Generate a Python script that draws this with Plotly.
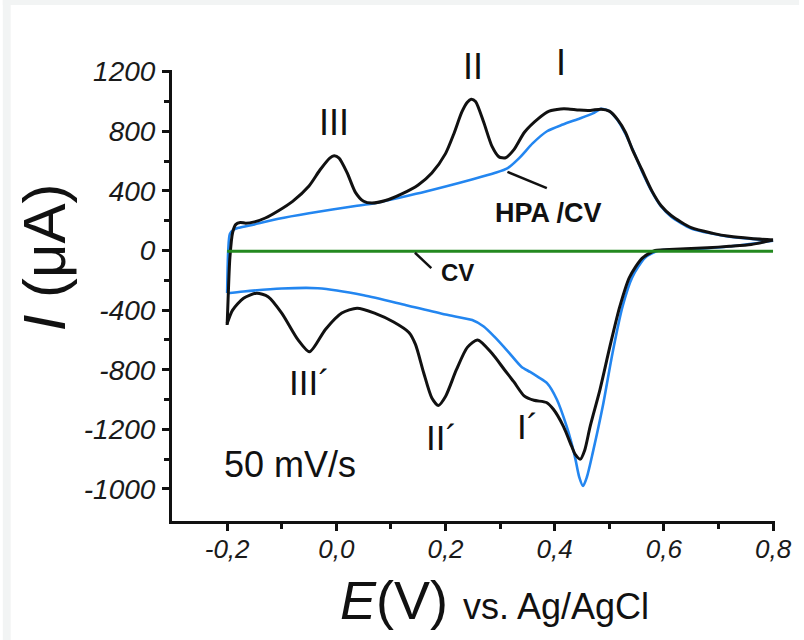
import plotly.graph_objects as go

# ---------------- data ----------------
# Black curve (HPA/CV), anodic (forward) sweep
hpa_fwd_E = [-0.200, -0.198, -0.195, -0.190, -0.184, -0.176, -0.166, -0.150, -0.130, -0.106,
             -0.080, -0.050, -0.030, -0.012, -0.004, 0.005, 0.020, 0.035, 0.050, 0.065,
             0.090, 0.120, 0.150, 0.175, 0.200, 0.215, 0.230, 0.240, 0.247, 0.255,
             0.270, 0.285, 0.298, 0.310, 0.325, 0.345, 0.370, 0.390, 0.411, 0.425,
             0.445, 0.465, 0.485, 0.500, 0.515, 0.530, 0.542, 0.560, 0.578, 0.595,
             0.614, 0.650, 0.690, 0.720, 0.760, 0.800]
hpa_fwd_I = [-500, -300, -50, 120, 175, 188, 183, 192, 218, 267,
             330, 433, 540, 620, 635, 620, 520, 390, 330, 318,
             335, 380, 440, 520, 650, 780, 930, 995, 1015, 1000,
             860, 700, 628, 622, 675, 795, 885, 935, 950, 950,
             942, 940, 948, 935, 880, 790, 680, 540, 400, 300,
             233, 153, 115, 95, 80, 70]

# Black curve (HPA/CV), cathodic (reverse) sweep
hpa_rev_E = [0.800, 0.760, 0.720, 0.680, 0.620, 0.584, 0.560, 0.537, 0.519, 0.501,
             0.483, 0.465, 0.455, 0.447, 0.438, 0.431, 0.416, 0.398, 0.385, 0.362,
             0.344, 0.325, 0.308, 0.285, 0.259, 0.240, 0.220, 0.200, 0.187, 0.175,
             0.160, 0.145, 0.133, 0.105, 0.070, 0.038, 0.010, -0.020, -0.049, -0.070,
             -0.100, -0.125, -0.146, -0.170, -0.190, -0.200]
hpa_rev_I = [70, 40, 28, 18, 8, 0, -53, -180, -380, -647,
             -933, -1180, -1340, -1400, -1370, -1313, -1180, -1067, -1020, -1005,
             -975, -880, -800, -690, -600, -650, -800, -980, -1040, -990,
             -820, -630, -550, -480, -420, -387, -420, -530, -680, -600,
             -420, -310, -287, -320, -400, -490]

# Blue curve, anodic sweep
blue_fwd_E = [-0.200, -0.198, -0.195, -0.188, -0.178, -0.150, -0.106, -0.050, 0.038, 0.065,
              0.146, 0.200, 0.250, 0.290, 0.314, 0.335, 0.360, 0.386, 0.415, 0.447,
              0.470, 0.485, 0.500, 0.515, 0.530, 0.545, 0.560, 0.578, 0.595, 0.614,
              0.650, 0.690, 0.720, 0.760, 0.800]
blue_fwd_I = [-285, 0, 110, 140, 153, 175, 213, 250, 300, 313,
              380, 430, 478, 520, 553, 620, 720, 800, 845, 887,
              920, 950, 935, 875, 780, 660, 530, 395, 295, 225,
              148, 112, 92, 78, 66]

# Blue curve, cathodic sweep
blue_rev_E = [0.800, 0.740, 0.680, 0.620, 0.591, 0.566, 0.542, 0.524, 0.506, 0.488,
              0.470, 0.459, 0.452, 0.445, 0.438, 0.430, 0.422, 0.404, 0.386, 0.370,
              0.355, 0.339, 0.315, 0.290, 0.270, 0.249, 0.200, 0.128, 0.050, -0.034,
              -0.100, -0.170, -0.200]
blue_rev_I = [66, 35, 15, 5, 0, -47, -180, -380, -687, -1047,
              -1353, -1520, -1580, -1520, -1400, -1280, -1180, -1000, -890, -850,
              -815, -780, -680, -580, -510, -467, -430, -367, -300, -253,
              -255, -275, -287]

# Green curve (bare CV electrode)
cv_E = [-0.200, 0.800]
cv_I = [-5, -5]

# Axis ticks
x_tickvals = [-0.2, 0.0, 0.2, 0.4, 0.6, 0.8]
x_ticktext = ["-0,2", "0,0", "0,2", "0,4", "0,6", "0,8"]
x_minor = [-0.1, 0.1, 0.3, 0.5, 0.7]
y_tickvals = [1200, 800, 400, 0, -400, -800, -1200, -1600]
y_ticktext = ["1200", "800", "400", "0", "-400", "-800", "-1200", "-1000"]
y_minor = [1000, 600, 200, -200, -600, -1000, -1400]

# ---------------- figure ----------------
BLACK = "#111111"
BLUE = "#2386f0"
GREEN = "#23891f"
FONT = "Liberation Sans, Arial, sans-serif"

fig = go.Figure()
for E, I in [(blue_fwd_E, blue_fwd_I), (blue_rev_E, blue_rev_I)]:
    fig.add_trace(go.Scatter(x=E, y=I, mode="lines", line=dict(color=BLUE, width=2.6, shape="spline", smoothing=0.7),
                             showlegend=False, hoverinfo="skip"))
for E, I in [(hpa_fwd_E, hpa_fwd_I), (hpa_rev_E, hpa_rev_I)]:
    fig.add_trace(go.Scatter(x=E, y=I, mode="lines", line=dict(color=BLACK, width=3, shape="spline", smoothing=0.7),
                             showlegend=False, hoverinfo="skip"))
fig.add_trace(go.Scatter(x=cv_E, y=cv_I, mode="lines", line=dict(color=GREEN, width=3),
                         showlegend=False, hoverinfo="skip"))

# labels
def ann(text, x, y, size, bold=False, yref="y"):
    fig.add_annotation(x=x, y=y, xref="x", yref=yref, text=text, showarrow=False,
                       xanchor="center", yanchor="middle",
                       font=dict(family=FONT, size=size, color="#111111", weight="bold" if bold else "normal"))

ann("III", -0.004, 862, 36)
ann("II", 0.251, 1.0067, 36, yref="paper")
ann("I", 0.412, 1.0177, 36, yref="paper")
ann("HPA /CV", 0.389, 252, 27, bold=True)
ann("CV", 0.222, -151, 24, bold=True)
ann("III´", -0.050, -889, 35)
ann("II´", 0.193, -1252, 35)
ann("I´", 0.351, -1178, 35)
ann("50 mV/s", -0.085, -1433, 36)

# leader lines
fig.add_shape(type="line", xref="x", yref="y", x0=0.3135, y0=527, x1=0.3856, y1=419,
              line=dict(color=BLACK, width=2.5))
fig.add_shape(type="line", xref="x", yref="y", x0=0.144, y0=-15, x1=0.174, y1=-118,
              line=dict(color=BLACK, width=2.5))

# frame strips (light gray page border on left/top)
fig.add_shape(type="rect", xref="paper", yref="paper", x0=-0.2806, x1=-0.2675, y0=-0.27, y1=1.16,
              fillcolor="#f2f4f4", line=dict(width=0), layer="below")
fig.add_shape(type="rect", xref="paper", yref="paper", x0=-0.2806, x1=1.04, y0=1.144, y1=1.16,
              fillcolor="#f2f4f4", line=dict(width=0), layer="below")

# axis titles
fig.add_annotation(xref="paper", yref="paper", x=-0.212, y=0.585, textangle=-90,
                   xanchor="center", yanchor="middle",
                   text="<i>I</i> (μA)", showarrow=False,
                   font=dict(family=FONT, size=60, color="#111111"))
fig.add_annotation(xref="paper", yref="paper", x=0.535, y=-0.175,
                   xanchor="center", yanchor="middle",
                   text="<i>E</i>(V) <span style='font-size:36px'>vs. Ag/AgCl</span>", showarrow=False,
                   font=dict(family=FONT, size=54, color="#111111"))

fig.update_xaxes(range=[-0.301, 0.8036], showline=True, linecolor=BLACK, linewidth=3,
                 ticks="outside", ticklen=7, tickwidth=3, tickcolor=BLACK,
                 tickmode="array", tickvals=x_tickvals, ticktext=x_ticktext,
                 tickfont=dict(family=FONT, size=26, color="#1a1a1a", style="italic"),
                 ticklabelstandoff=-4,
                 minor=dict(tickvals=x_minor, ticks="outside", ticklen=5, tickwidth=2.5, tickcolor=BLACK),
                 showgrid=False, zeroline=False, mirror=False)
fig.update_yaxes(range=[-1815, 1211], showline=True, linecolor=BLACK, linewidth=3,
                 ticks="outside", ticklen=7, tickwidth=3, tickcolor=BLACK,
                 tickmode="array", tickvals=y_tickvals, ticktext=y_ticktext,
                 tickfont=dict(family=FONT, size=28, color="#1a1a1a", style="italic"),
                 ticklabelstandoff=1,
                 minor=dict(tickvals=y_minor, ticks="outside", ticklen=5, tickwidth=2.5, tickcolor=BLACK),
                 showgrid=False, zeroline=False, mirror=False)

fig.update_layout(width=804, height=640, autosize=False,
                  margin=dict(l=172, r=19, t=70, b=119),
                  paper_bgcolor="white", plot_bgcolor="white",
                  showlegend=False)

fig.write_html("out.html")
